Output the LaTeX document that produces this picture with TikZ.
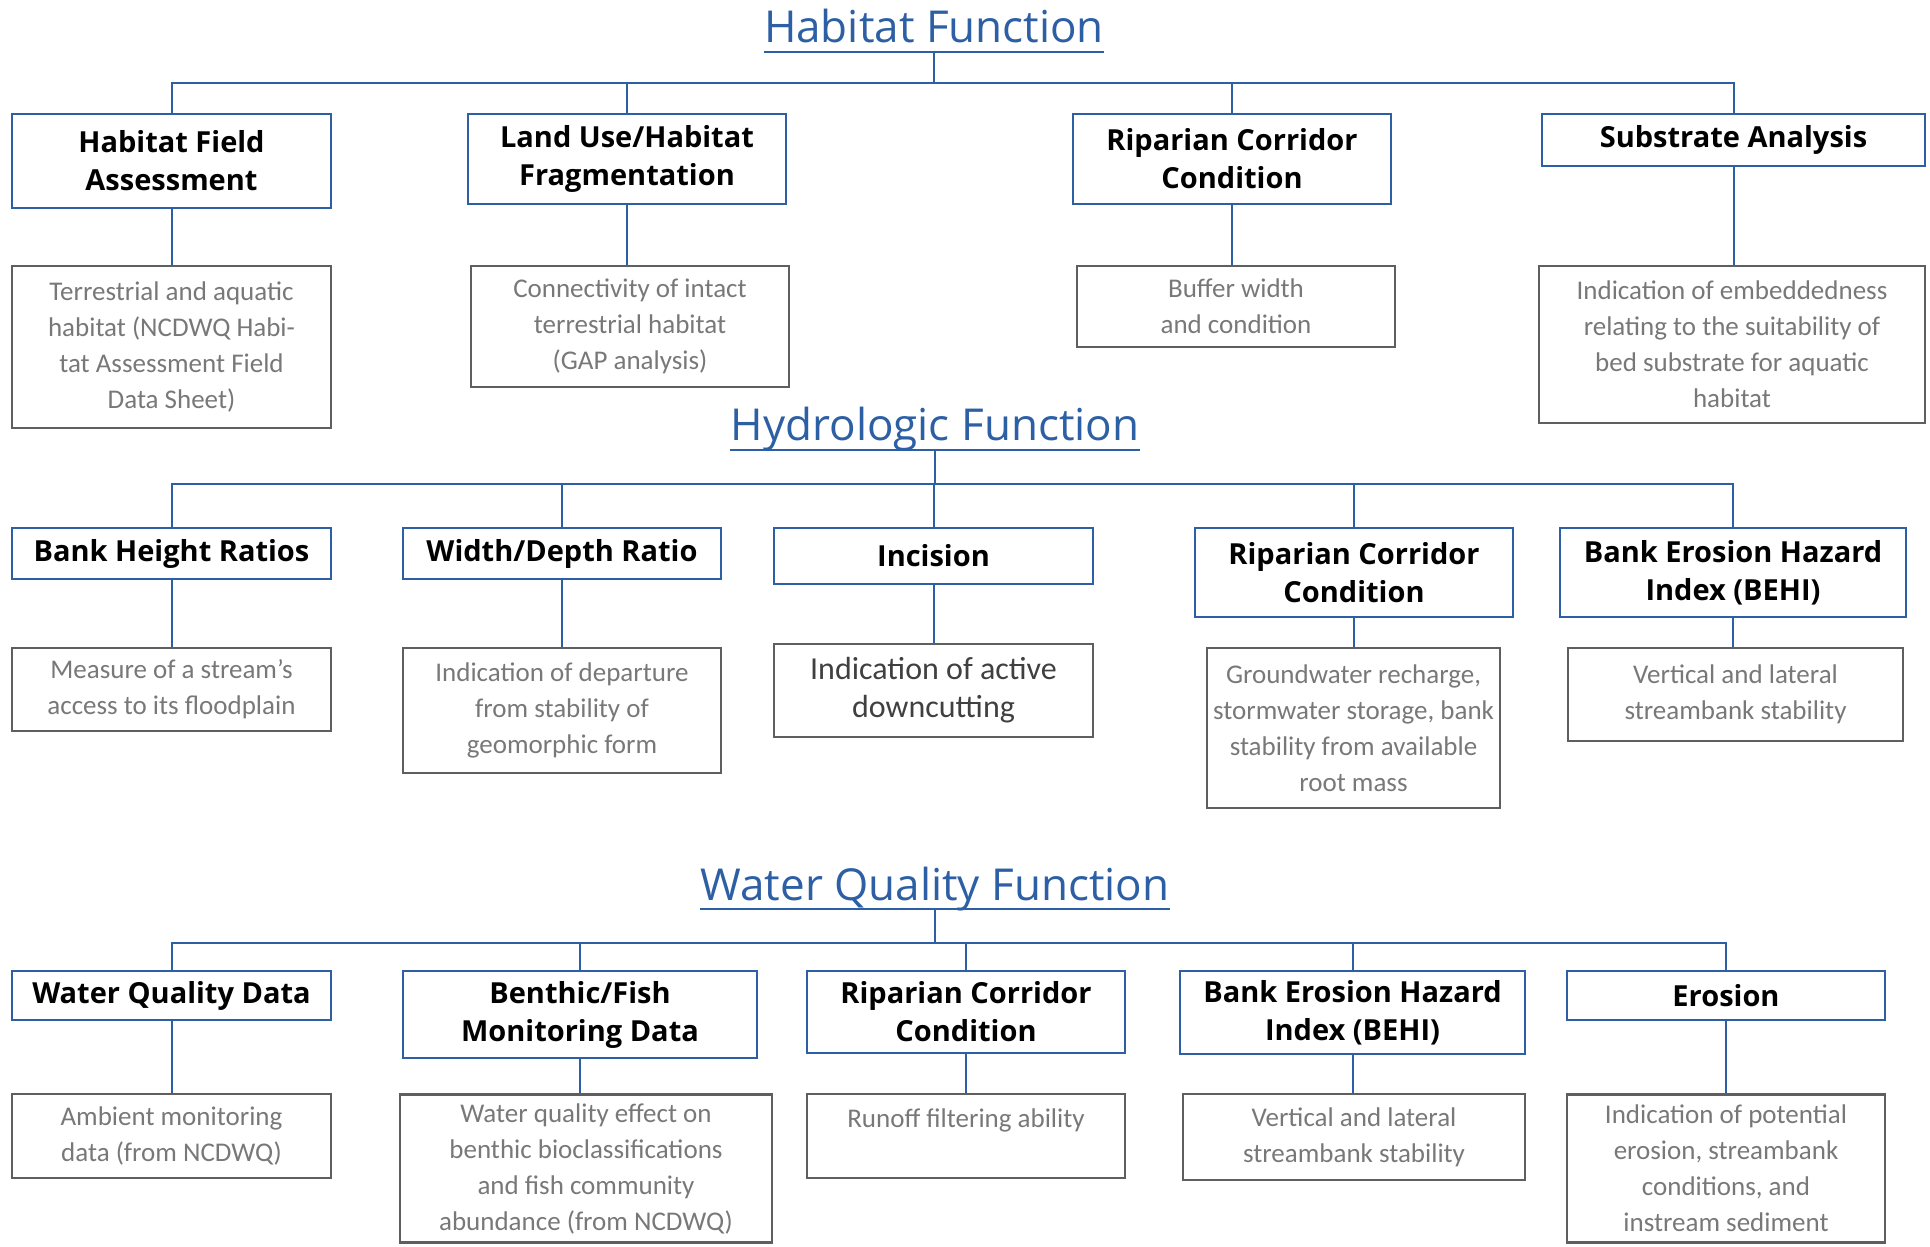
\documentclass[tikz,border=0pt]{standalone}
\usepackage{fontspec}
\setmainfont{Carlito}
\newfontfamily\headfont{Open Sans}
\usepackage{tikz}
\definecolor{lineblue}{RGB}{45,95,165}
\definecolor{boxgray}{RGB}{95,95,95}
\definecolor{textgray}{RGB}{120,120,120}

\begin{document}
\begin{tikzpicture}[x=0.5pt, y=-0.5pt,
    title/.style={font=\headfont\fontsize{22}{26}\selectfont, text=lineblue, inner sep=0pt, anchor=base},
    head/.style={draw=lineblue, line width=1pt, align=center, inner sep=2pt, font=\headfont\bfseries\fontsize{14.5}{19}\selectfont},
    desc/.style={draw=boxgray, line width=1.4pt, align=center, inner sep=2pt, text=textgray, font=\fontsize{13.5}{18}\selectfont},
    link/.style={draw=lineblue, line width=1pt}]
    \useasboundingbox (0,0) rectangle (1930,1246);

    % Habitat function
    \node[title] (HabTitle) at (934,43) {Habitat Function};
    \coordinate (HabUnder) at ([yshift=-4.5pt]HabTitle.base);
    \coordinate (HabBus) at (934,83);
    \node[head, minimum width=159.5pt, minimum height=47pt] (HabField) at (171.5,161) {Habitat Field\\Assessment};
    \node[head, minimum width=159pt, minimum height=45pt] (HabLand) at (627,159) {Land Use/Habitat\\Fragmentation};
    \node[head, minimum width=159pt, minimum height=45pt] (HabRip) at (1232,159) {Riparian Corridor\\Condition};
    \node[head, minimum width=191.5pt, minimum height=26pt] (HabSub) at (1733.5,140) {Substrate Analysis};
    \node[desc, minimum width=159.5pt, minimum height=81pt] (HabFieldD) at (171.5,347) {Terrestrial and aquatic\\habitat (NCDWQ Habi-\\tat Assessment Field\\Data Sheet)};
    \node[desc, minimum width=159pt, minimum height=60.5pt] (HabLandD) at (630,326.5) {Connectivity of intact\\terrestrial habitat\\(GAP analysis)};
    \node[desc, minimum width=159pt, minimum height=40.5pt] (HabRipD) at (1236,306.5) {Buffer width\\and condition};
    \node[desc, minimum width=193pt, minimum height=78.5pt] (HabSubD) at (1732,344.5) {Indication of embeddedness\\relating to the suitability of\\bed substrate for aquatic\\habitat};

    % Hydrologic function
    \node[title] (HydTitle) at (935,440) {Hydrologic Function};
    \coordinate (HydUnder) at ([yshift=-5pt]HydTitle.base);
    \coordinate (HydBus) at (935,484);
    \node[head, minimum width=159.5pt, minimum height=25.5pt] (HydBank) at (171.5,553.5) {Bank Height Ratios};
    \node[head, minimum width=159pt, minimum height=25.5pt] (HydWidth) at (562,553.5) {Width/Depth Ratio};
    \node[head, minimum width=159.5pt, minimum height=28pt] (HydInc) at (933.5,556) {Incision};
    \node[head, minimum width=159pt, minimum height=44.5pt] (HydRip) at (1354,572.5) {Riparian Corridor\\Condition};
    \node[head, minimum width=173pt, minimum height=44.5pt] (HydBehi) at (1733,572.5) {Bank Erosion Hazard\\Index (BEHI)};
    \node[desc, minimum width=159.5pt, minimum height=41.5pt] (HydBankD) at (171.5,689.5) {Measure of a stream's\\access to its floodplain};
    \node[desc, minimum width=159pt, minimum height=62.5pt] (HydWidthD) at (562,710.5) {Indication of departure\\from stability of\\geomorphic form};
    \node[desc, minimum width=159.5pt, minimum height=46.5pt, text=black!75, font=\fontsize{16}{19}\selectfont] (HydIncD) at (933.5,690.5) {Indication of active\\downcutting};
    \node[desc, minimum width=146.5pt, minimum height=80pt] (HydRipD) at (1353.5,728) {Groundwater recharge,\\stormwater storage, bank\\stability from available\\root mass};
    \node[desc, minimum width=167.5pt, minimum height=46.5pt] (HydBehiD) at (1735.5,694.5) {Vertical and lateral\\streambank stability};

    % Water quality function
    \node[title] (WqTitle) at (935,900) {Water Quality Function};
    \coordinate (WqUnder) at ([yshift=-4.5pt]WqTitle.base);
    \coordinate (WqBus) at (935,943);
    \node[head, minimum width=159.5pt, minimum height=24.5pt] (WqData) at (171.5,995.5) {Water Quality Data};
    \node[head, minimum width=177pt, minimum height=43.5pt] (WqBen) at (580,1014.5) {Benthic/Fish\\Monitoring Data};
    \node[head, minimum width=159pt, minimum height=41pt] (WqRip) at (966,1012) {Riparian Corridor\\Condition};
    \node[head, minimum width=172.5pt, minimum height=41.5pt] (WqBehi) at (1352.5,1012.5) {Bank Erosion Hazard\\Index (BEHI)};
    \node[head, minimum width=159pt, minimum height=24.5pt] (WqEro) at (1726,995.5) {Erosion};
    \node[desc, minimum width=159.5pt, minimum height=42pt] (WqDataD) at (171.5,1136) {Ambient monitoring\\data (from NCDWQ)};
    \node[desc, minimum width=186pt, minimum height=74pt] (WqBenD) at (586,1168.5) {Water quality effect on\\benthic bioclassifications\\and fish community\\abundance (from NCDWQ)};
    \node[desc, minimum width=159pt, minimum height=42pt] (WqRipD) at (966,1136) {Runoff filtering ability\\ \mbox{}};
    \node[desc, minimum width=171pt, minimum height=43pt] (WqBehiD) at (1354,1137) {Vertical and lateral\\streambank stability};
    \node[desc, minimum width=159pt, minimum height=74pt] (WqEroD) at (1726,1168.5) {Indication of potential\\erosion, streambank\\conditions, and\\instream sediment};

    % Underlines and trunks
    \foreach \t in {Hab,Hyd,Wq} {
        \draw[link] (\t Title.base west |- \t Under) -- (\t Title.base east |- \t Under);
        \draw[link] (\t Under) -- (\t Bus);
    }

    % Buses
    \draw[link] (HabField.north) |- (HabBus) -| (HabSub.north);
    \draw[link] (HydBank.north) |- (HydBus) -| (HydBehi.north);
    \draw[link] (WqData.north) |- (WqBus) -| (WqEro.north);
    \foreach \n/\b in {HabLand/HabBus,HabRip/HabBus,HydWidth/HydBus,HydInc/HydBus,HydRip/HydBus,WqBen/WqBus,WqRip/WqBus,WqBehi/WqBus}
        \draw[link] (\n.north) -- (\n.north |- \b);
    % Header to description
    \foreach \n in {HabField,HabLand,HabRip,HabSub,HydBank,HydWidth,HydInc,HydRip,HydBehi,WqData,WqBen,WqRip,WqBehi,WqEro}
        \draw[link] (\n.south) -- (\n.south |- \n D.north);
\end{tikzpicture}
\end{document}
